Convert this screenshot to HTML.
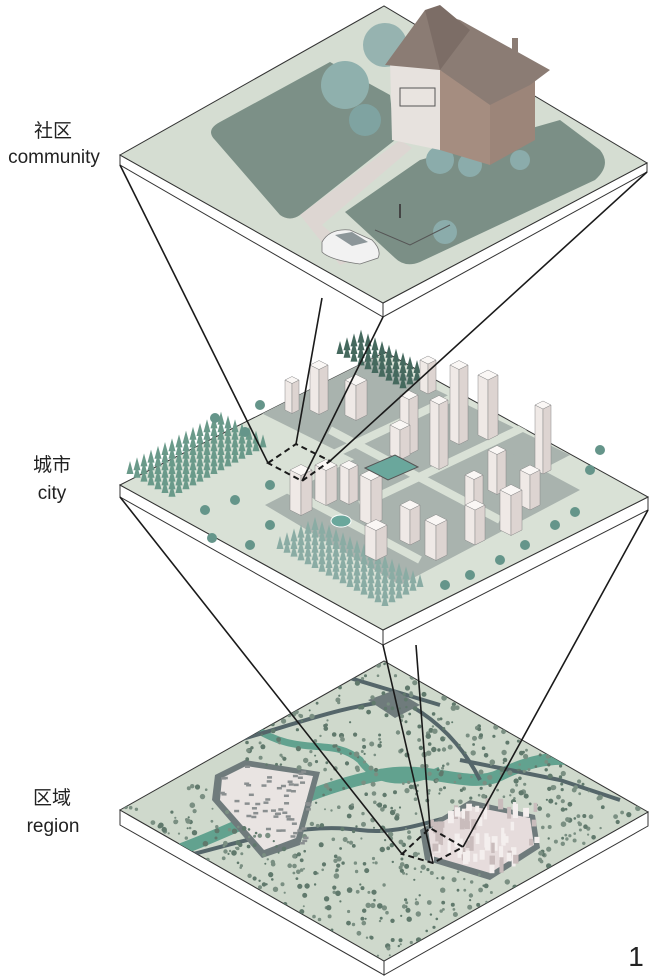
<!DOCTYPE html>
<html><head><meta charset="utf-8">
<style>
html,body{margin:0;padding:0;background:#fff;width:650px;height:976px;overflow:hidden}
svg{display:block}
.lbl{font-family:"Liberation Sans","Noto Sans CJK SC",sans-serif;font-size:19px;fill:#222}
</style></head>
<body>
<svg id="s" width="650" height="976" viewBox="0 0 650 976" xmlns="http://www.w3.org/2000/svg">
<defs>
<clipPath id="c1"><polygon points="120,155 384,6 647,163 383,303"/></clipPath>
<clipPath id="c2"><polygon points="120,485 385,352 648,497 383,630"/></clipPath>
<clipPath id="c3"><polygon points="120,810 384,661 648,812 384,961"/></clipPath>
</defs>

<polygon points="120,810 384,961 384,975 120,825" fill="#fff" stroke="#333" stroke-width="1"/>
<polygon points="384,961 648,812 648,826 384,975" fill="#fff" stroke="#333" stroke-width="1"/>
<polygon points="120,810 384,661 648,812 384,961" fill="#cfd9cc" stroke="#333" stroke-width="1"/>
<g id="g3" clip-path="url(#c3)">
 <path d="M150,860 C230,835 300,790 380,775 C430,765 470,790 500,775 C560,745 600,760 640,790" stroke="#62a28f" stroke-width="12" fill="none"/>
 <path d="M250,725 C300,760 330,735 360,760 C380,790 420,780 440,770" stroke="#62a28f" stroke-width="7" fill="none"/>
 <path d="M130,870 C220,850 290,820 360,830 C400,835 430,820 460,815" stroke="#55666a" stroke-width="4" fill="none"/>
 <path d="M220,745 C280,730 340,705 400,700 C430,715 460,740 480,780" stroke="#55666a" stroke-width="4" fill="none"/>
 <path d="M340,675 L440,705 M460,760 L560,780 L620,800" stroke="#55666a" stroke-width="4" fill="none"/>
 <polygon points="215,775 245,760 320,772 300,845 262,858 212,800" fill="#6f7b7c"/>
 <polygon points="222,778 246,766 313,776 296,838 264,850 220,800" fill="#e9e4e2"/>
 <polygon points="368,700 395,690 420,705 395,718" fill="#6f7b7c"/>
 <polygon points="420,830 470,800 535,815 540,848 490,880 425,860" fill="#6f7b7c"/>
 <polygon points="428,830 470,806 530,818 534,845 490,873 432,856" fill="#e6dcdc"/>
</g>

<polygon points="120,485 383,630 383,645 120,497" fill="#fff" stroke="#333" stroke-width="1"/>
<polygon points="383,630 648,497 648,510 383,645" fill="#fff" stroke="#333" stroke-width="1"/>
<polygon points="120,485 385,352 648,497 383,630" fill="#d9e1d6" stroke="#333" stroke-width="1"/>
<g id="g2" clip-path="url(#c2)">
 <polygon points="245,405 355,350 570,455 460,512" fill="#a9b3ae"/>
 <polygon points="265,505 440,415 580,490 400,585" fill="#a9b3ae"/>
 <path d="M300,470 L500,375 M360,505 L560,410 M330,430 L500,520 M270,480 L420,560" stroke="#d9e1d6" stroke-width="8"/>
</g>

<polygon points="120,155 383,303 383,317 120,165" fill="#fff" stroke="#333" stroke-width="1"/>
<polygon points="383,303 647,163 647,172 383,317" fill="#fff" stroke="#333" stroke-width="1"/>
<polygon points="120,155 384,6 647,163 383,303" fill="#d5ddd2" stroke="#333" stroke-width="1"/>
<g clip-path="url(#c1)">
 <path d="M215,140 Q205,130 220,122 L330,62 L390,95 L395,140 L300,215 Q290,222 280,215 Z" fill="#7c9087"/>
 <path d="M345,212 L420,160 L560,120 L600,150 Q612,165 595,180 L420,262 Q405,268 395,258 Z" fill="#7b8f86"/>
 <path d="M300,215 L400,140 L412,148 L322,225 L360,258 L340,265 Z" fill="#ddd6d2"/>
 <circle cx="345" cy="85" r="24" fill="#8fb0ad"/>
 <circle cx="385" cy="45" r="22" fill="#96b3b0"/>
 <circle cx="365" cy="120" r="16" fill="#7fa3a1"/>
 <circle cx="440" cy="160" r="14" fill="#8bacab"/>
 <circle cx="470" cy="165" r="12" fill="#8bacab"/>
 <circle cx="520" cy="160" r="10" fill="#8bacab"/>
 <circle cx="445" cy="232" r="12" fill="#8bacab"/>
</g>
<polygon points="390,60 425,25 440,70 440,150 392,140" fill="#e7e2de"/>
<polygon points="440,70 490,100 490,165 440,150" fill="#a58d80"/>
<polygon points="490,100 535,80 535,140 490,165" fill="#9c8579"/>
<polygon points="385,65 425,10 460,20 550,70 530,85 490,105 440,70" fill="#8b7c74"/>
<polygon points="425,10 440,5 470,30 440,70" fill="#7c6d66"/>
<rect x="512" y="38" width="6" height="14" fill="#8b7c74"/>
<g stroke="#555" stroke-width="1" fill="#e9e4e0"><rect x="400" y="88" width="35" height="18"/></g>
<path d="M322,242 Q330,228 350,230 L372,240 Q382,250 378,258 L360,264 Q330,260 322,252 Z" fill="#f2f2f2" stroke="#777" stroke-width="0.8"/>
<path d="M335,235 L352,232 L368,242 L352,246 Z" fill="#8c9699"/>
<path d="M400,218 l0,-14" stroke="#444" stroke-width="2"/>
<path d="M375,230 L410,245 L450,225" stroke="#555" stroke-width="1" fill="none"/>

<g id="g2b"></g>

<g stroke="#1a1a1a" stroke-width="1.6" fill="none">
 <line x1="120" y1="165" x2="268" y2="463"/>
 <line x1="322" y1="298" x2="296" y2="444"/>
 <line x1="383" y1="317" x2="302" y2="481"/>
 <line x1="647" y1="172" x2="330" y2="461"/>
 <line x1="120" y1="497" x2="402" y2="854"/>
 <line x1="416" y1="645" x2="430" y2="828"/>
 <line x1="383" y1="645" x2="433" y2="863"/>
 <line x1="648" y1="510" x2="463" y2="847"/>
</g>
<g stroke="#1a1a1a" stroke-width="2" fill="none" stroke-dasharray="6,4">
 <polygon points="268,463 296,444 330,461 302,481"/>
 <polygon points="402,854 430,828 463,847 433,863"/>
</g>

<text class="lbl" x="53" y="137" text-anchor="middle">社区</text>
<text class="lbl" x="54" y="163" text-anchor="middle">community</text>
<text class="lbl" x="52" y="471" text-anchor="middle">城市</text>
<text class="lbl" x="52" y="499" text-anchor="middle">city</text>
<text class="lbl" x="52" y="804" text-anchor="middle">区域</text>
<text class="lbl" x="53" y="832" text-anchor="middle">region</text>
<text x="636" y="966" text-anchor="middle" style="font-family:'Liberation Sans',sans-serif;font-size:28px;fill:#222">1</text>
</svg>
<script>
(function(){
var NS="http://www.w3.org/2000/svg";
var seed=7;function r(){seed=(seed*16807)%2147483647;return seed/2147483647;}
function el(p,t,a){var e=document.createElementNS(NS,t);for(var k in a)e.setAttribute(k,a[k]);p.appendChild(e);return e;}
var g3=document.getElementById("g3");
function inQuad(x,y,pts){var c=false;for(var i=0,j=pts.length-1;i<pts.length;j=i++){var xi=pts[i][0],yi=pts[i][1],xj=pts[j][0],yj=pts[j][1];if(((yi>y)!=(yj>y))&&(x<(xj-xi)*(y-yi)/(yj-yi)+xi))c=!c;}return c;}
var region=[[120,810],[384,661],[648,812],[384,961]];
var avoid=[[[212,760],[322,770],[300,850],[210,800]],[[418,800],[540,810],[540,880],[420,862]]];
for(var i=0;i<2000;i++){var x=120+r()*528,y=661+r()*300;if(!inQuad(x,y,region))continue;var bad=false;avoid.forEach(function(a){if(inQuad(x,y,a))bad=true;});if(bad)continue;
 if(r()<0.25)continue;el(g3,"circle",{cx:x.toFixed(1),cy:y.toFixed(1),r:(1+r()*1.8).toFixed(1),fill:r()<0.5?"#60796c":"#7a8f82"});}
for(var i=0;i<70;i++){var x=430+r()*105,y=805+r()*70;if(!inQuad(x,y,avoid[1]))continue;el(g3,"rect",{x:x,y:y-8,width:3+r()*3,height:6+r()*10,fill:r()<0.5?"#f4efee":"#c9bcbc"});}
for(var i=0;i<80;i++){var x=215+r()*100,y=765+r()*85;if(!inQuad(x,y,avoid[0]))continue;el(g3,"rect",{x:x,y:y,width:5,height:2.5,fill:"#8a8f90"});}
var g2=document.getElementById("g2b");
function forest(x0,y0,cols,rows,dx,dy,col){for(var j=0;j<rows;j++)for(var i=0;i<cols;i++){var x=x0+i*dx[0]+j*dy[0],y=y0+i*dx[1]+j*dy[1];el(g2,"polygon",{points:(x-3.5)+","+(y+4)+" "+x+","+(y-9)+" "+(x+3.5)+","+(y+4),fill:col});}}
forest(130,470,14,7,[7,-3.8],[7,3.8],"#6a9a8a");
forest(280,545,16,6,[7,3.8],[7,-3.8],"#8aaca4");
forest(340,350,10,4,[7,3.8],[7,-3.8],"#45695e");
var bl=[[285,380,14,30],[310,365,18,45],[345,380,22,35],[420,360,16,30],[400,395,18,55],[430,400,18,65],[450,365,18,75],[478,375,20,60],[535,405,16,65],[390,425,20,30],[465,475,18,35],[488,450,18,40],[520,470,20,35],[290,470,22,40],[315,465,22,35],[340,465,18,35],[360,475,22,45],[400,505,20,35],[365,525,22,30],[425,520,22,35],[465,505,20,35],[500,490,22,40]];
bl.forEach(function(b){var x=b[0],y=b[1],w=b[2],h=b[3];
 el(g2,"polygon",{points:x+","+y+" "+(x+w/2)+","+(y+w/4)+" "+(x+w/2)+","+(y+w/4+h)+" "+x+","+(y+h),fill:"#efe9e6",stroke:"#888","stroke-width":0.5});
 el(g2,"polygon",{points:(x+w/2)+","+(y+w/4)+" "+(x+w)+","+y+" "+(x+w)+","+(y+h)+" "+(x+w/2)+","+(y+w/4+h),fill:"#ddd4d1",stroke:"#888","stroke-width":0.5});
 el(g2,"polygon",{points:x+","+y+" "+(x+w/2)+","+(y-w/4)+" "+(x+w)+","+y+" "+(x+w/2)+","+(y+w/4),fill:"#faf7f5",stroke:"#888","stroke-width":0.5});});
el(g2,"polygon",{points:"365,468 395,455 418,467 388,480",fill:"#6aa79c",stroke:"#555"});
el(g2,"ellipse",{cx:341,cy:521,rx:10,ry:6,fill:"#6aa79c",stroke:"#fff"});
var st=[[260,405],[245,432],[215,418],[270,485],[235,500],[205,510],[212,538],[250,545],[270,525],[590,470],[600,450],[575,512],[555,525],[525,545],[500,560],[470,575],[445,585]];
st.forEach(function(p){el(g2,"circle",{cx:p[0],cy:p[1],r:5,fill:"#65958a"});});
})();
</script>
</body></html>
